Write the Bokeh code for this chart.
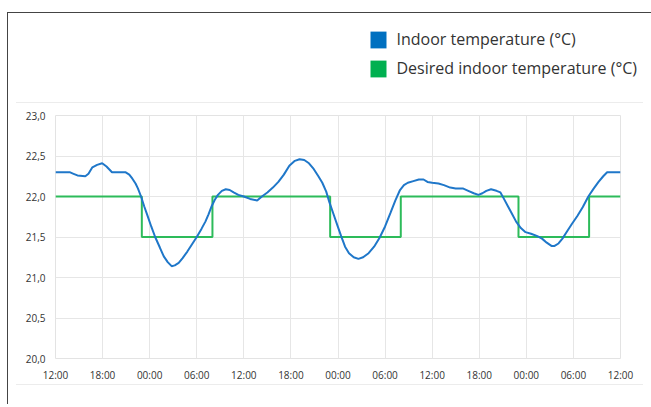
from bokeh.plotting import figure
from bokeh.layouts import column
from bokeh.models import (FixedTicker, Legend, LegendItem, ColumnDataSource, Range1d)
from bokeh.embed import file_html
from bokeh.resources import INLINE

# ---- data ----
hours = [0, 1.8, 2.3, 2.8, 3.8, 4.2, 4.7, 5.3, 5.95, 6.5, 7.2, 8.0, 8.9, 9.4, 9.8, 10.2,
         10.5, 10.9, 11.3, 11.7, 12.2, 12.7, 13.3, 13.8, 14.3, 14.8, 15.2, 15.7, 16.2,
         16.8, 17.4, 18.0, 18.6, 19.1, 19.5, 19.9, 20.3, 20.7, 21.2, 21.7, 22.2, 22.7,
         23.3, 24.0, 24.8, 25.7, 26.3, 27.0, 27.7, 28.4, 29.1, 29.8, 30.5, 31.1, 31.7,
         32.3, 32.9, 33.5, 34.0, 34.5, 34.9, 35.4, 35.9, 36.4, 36.9, 37.4, 38.0, 38.6,
         39.2, 39.9, 40.6, 41.3, 42.0, 42.7, 43.3, 43.9, 44.4, 44.9, 45.6, 46.3, 46.9,
         47.4, 48.0, 48.8, 49.5, 50.3, 51.0, 51.9, 52.6, 53.3, 53.9, 54.4, 54.9, 55.5,
         56.2, 56.7, 57.1, 57.6, 58.1, 58.7, 59.3, 59.9, 60.6, 61.4, 62.0, 62.6, 63.2,
         63.6, 64.1, 64.6, 65.2, 65.8, 66.5, 67.2, 67.9, 68.6, 69.2, 69.8, 70.3, 72.0]
indoor_temp = [22.30, 22.30, 22.28, 22.26, 22.25, 22.28, 22.36, 22.39, 22.41, 22.37, 22.30,
               22.30, 22.30, 22.27, 22.22, 22.16, 22.10, 22.00, 21.88, 21.77, 21.63, 21.50,
               21.37, 21.26, 21.19, 21.14, 21.15, 21.18, 21.24, 21.32, 21.41, 21.50, 21.60,
               21.69, 21.78, 21.88, 21.96, 22.02, 22.07, 22.09, 22.08, 22.05, 22.02, 22.00,
               21.97, 21.95, 22.00, 22.05, 22.11, 22.18, 22.27, 22.38, 22.44, 22.46, 22.45,
               22.41, 22.34, 22.25, 22.17, 22.06, 21.93, 21.79, 21.65, 21.51, 21.38, 21.30,
               21.25, 21.23, 21.25, 21.30, 21.38, 21.49, 21.63, 21.80, 21.95, 22.08, 22.14,
               22.17, 22.19, 22.21, 22.21, 22.18, 22.17, 22.16, 22.14, 22.11, 22.10, 22.10,
               22.07, 22.04, 22.02, 22.04, 22.07, 22.09, 22.07, 22.05, 21.98, 21.89, 21.80,
               21.69, 21.61, 21.56, 21.54, 21.51, 21.48, 21.43, 21.39, 21.39, 21.42, 21.48,
               21.57, 21.66, 21.76, 21.87, 22.00, 22.10, 22.18, 22.25, 22.30, 22.30]

setpoint_hours = [0, 11, 11, 20, 20, 35, 35, 44, 44, 59, 59, 68, 68, 72]
desired_temp = [22.0, 22.0, 21.5, 21.5, 22.0, 22.0, 21.5, 21.5, 22.0, 22.0, 21.5, 21.5, 22.0, 22.0]

x_tick_hours = [0, 6, 12, 18, 24, 30, 36, 42, 48, 54, 60, 66, 72]
x_tick_labels = ["12:00", "18:00", "00:00", "06:00", "12:00", "18:00", "00:00",
                 "06:00", "12:00", "18:00", "00:00", "06:00", "12:00"]
y_ticks = [20.0, 20.5, 21.0, 21.5, 22.0, 22.5, 23.0]
y_tick_labels = ["20,0", "20,5", "21,0", "21,5", "22,0", "22,5", "23,0"]

series_names = ["Indoor temperature (°C)", "Desired indoor temperature (°C)"]
line_colors = ["#1f77c9", "#2dbb5a"]
legend_colors = ["#0070c0", "#00b050"]

FONT = "Open Sans"
W = 627
SEP = {"border-bottom": "1px solid #ececec"}
nan = float("nan")


def no_align(fig):
    try:
        fig.frame_align = False
    except Exception:
        pass


# ---- header with legend ----
head = figure(width=W, height=89, output_backend="svg", toolbar_location=None,
              x_range=Range1d(0, 1), y_range=Range1d(0, 1),
              x_axis_type=None, y_axis_type=None,
              min_border=0, min_border_left=0, min_border_right=0,
              min_border_top=0, min_border_bottom=0, styles=SEP)
head.outline_line_color = None
head.grid.visible = False
head.border_fill_color = "white"
no_align(head)

swatch = ColumnDataSource(dict(left=[nan], right=[nan], top=[nan], bottom=[nan]))
r_in = head.quad(left="left", right="right", top="top", bottom="bottom", source=swatch,
                 fill_color=legend_colors[0], line_color=None)
r_set = head.quad(left="left", right="right", top="top", bottom="bottom", source=swatch,
                  fill_color=legend_colors[1], line_color=None)
legend = Legend(items=[LegendItem(label=series_names[0], renderers=[r_in]),
                       LegendItem(label=series_names[1], renderers=[r_set])],
                location=(352, 24), padding=0, margin=0, spacing=7,
                glyph_width=20, glyph_height=21, label_height=21, label_standoff=9,
                label_text_font=FONT, label_text_font_size="16px",
                label_text_color="#333333", border_line_color=None,
                background_fill_alpha=0)
head.add_layout(legend, "center")

# ---- main chart ----
p = figure(width=W, height=281, output_backend="svg", toolbar_location=None,
           x_range=(0, 72), y_range=(20, 23),
           min_border_left=39, min_border_right=23, min_border_top=12, min_border_bottom=27,
           styles=SEP)
p.background_fill_color = "white"
p.border_fill_color = "white"
p.outline_line_color = "#e3e3e3"
p.outline_line_width = 1
no_align(p)

for ax in (p.xaxis[0], p.yaxis[0]):
    ax.axis_line_color = None
    ax.major_tick_line_color = None
    ax.minor_tick_line_color = None
    ax.major_tick_out = 0
    ax.major_tick_in = 0
    ax.minor_tick_out = 0
    ax.minor_tick_in = 0
    ax.major_label_text_font = FONT
    ax.major_label_text_font_size = "10px"
    ax.major_label_text_color = "#333333"

p.xaxis.ticker = FixedTicker(ticks=x_tick_hours)
p.xaxis.major_label_overrides = {h: l for h, l in zip(x_tick_hours, x_tick_labels)}
p.xaxis.major_label_standoff = 9
p.yaxis.ticker = FixedTicker(ticks=y_ticks)
p.yaxis.major_label_overrides = {v: l for v, l in zip(y_ticks, y_tick_labels)}
p.yaxis.major_label_standoff = 10

p.xgrid.ticker = FixedTicker(ticks=x_tick_hours)
p.ygrid.ticker = FixedTicker(ticks=y_ticks)
p.grid.grid_line_color = "#e6e6e6"
p.grid.grid_line_width = 1

p.line(setpoint_hours, desired_temp, line_color=line_colors[1], line_width=2)
p.line(hours, indoor_temp, line_color=line_colors[0], line_width=2)

root = column(head, p, styles={"margin-left": "7px", "margin-top": "12px",
                               "border-top": "1.5px solid #444444",
                               "border-left": "1.5px solid #444444",
                               "padding-left": "7.5px", "padding-right": "8px",
                               "padding-bottom": "19px", "overflow": "visible",
                               "box-sizing": "content-box"})

open("out.html", "w").write(file_html(root, INLINE))
